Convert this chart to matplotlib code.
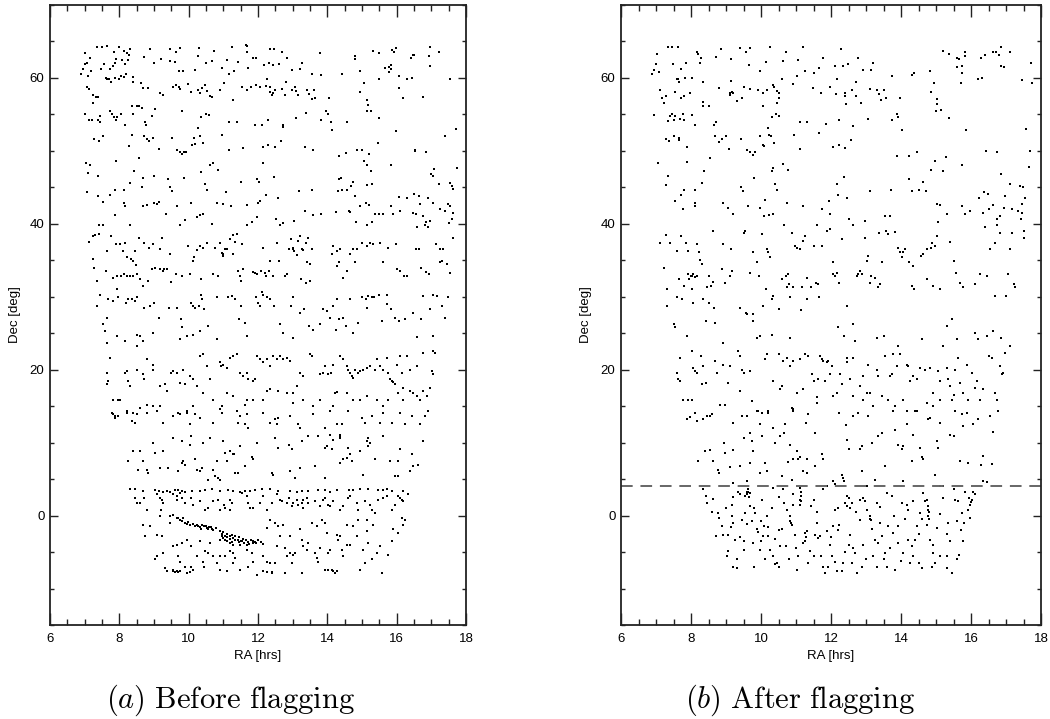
import matplotlib
matplotlib.use('Agg')
import matplotlib.pyplot as plt
from matplotlib.ticker import MultipleLocator

plt.rcParams['mathtext.fontset'] = 'cm'

# ---------------- (a) Before flagging : (RA [hrs], Dec [deg]) ----------------
before_north = [
(7.35,64.3),(7.49,64.3),(7.65,64.4),(8.0,64.3),(7.02,63.4),(7.85,63.6),(8.13,63.7),(8.30,63.9),(8.21,63.4),(8.88,64.0),
(9.46,64.0),(9.63,63.6),(9.75,64.1),(10.31,64.1),(10.74,63.7),(11.26,64.2),(11.68,64.4),(11.66,64.5),(11.69,63.6),(12.36,64.0),
(12.46,64.0),(12.69,63.6),(13.79,63.4),(14.79,63.0),(15.31,63.7),(15.49,63.4),(15.86,63.8),(15.97,64.1),(15.93,63.6),(16.48,63.2),
(16.96,64.3),(17.23,63.6),(16.92,63.0),
(6.88,60.5),(6.94,61.2),(7.0,61.9),(7.08,62.0),(7.15,62.7),(7.19,60.9),(7.10,60.2),(7.46,61.2),(7.56,61.9),(7.73,61.2),
(7.81,61.7),(7.88,62.1),(7.91,62.6),(8.07,62.4),(8.16,61.9),(8.26,62.5),(8.29,63.1),(8.72,62.9),(8.99,62.0),(9.19,62.6),
(9.45,62.3),(9.60,62.2),(9.72,61.0),(9.84,60.9),(10.17,61.1),(10.28,63.0),(10.49,62.1),(10.67,62.3),(10.96,61.4),(11.10,62.5),
(11.16,60.5),(11.32,60.9),(11.41,62.2),(11.71,61.3),(11.95,62.8),(11.87,62.8),(12.16,61.8),(12.31,62.1),(12.44,61.8),(12.61,61.9),
(12.85,62.8),(12.98,61.1),(13.21,61.2),(13.28,62.1),(13.57,60.6),(13.81,60.4),(14.42,60.5),(14.93,61.0),(14.79,62.6),(15.66,61.4),
(15.77,61.5),(15.83,61.2),(15.84,61.8),(15.79,60.8),(16.08,60.3),(16.41,62.8),(16.51,63.2),(16.97,61.7),(17.55,59.8),
(7.06,58.8),(7.13,58.5),(7.25,57.6),(7.32,57.4),(7.39,57.4),(7.61,60.0),(7.65,59.8),(7.70,59.9),(7.77,59.4),(7.87,60.0),
(7.99,59.8),(8.04,60.2),(8.13,60.1),(8.18,60.5),(8.38,60.1),(8.38,59.4),(8.63,59.3),(8.67,58.6),(8.83,58.6),(9.17,58.0),
(9.25,57.7),(9.56,58.8),(9.63,59.0),(9.71,58.8),(9.75,58.5),(9.97,59.2),(10.08,58.1),(10.26,58.4),(10.33,57.9),(10.39,58.6),
(10.46,59.0),(10.54,58.2),(10.61,57.5),(10.67,57.4),(10.90,58.4),(11.02,59.3),(11.29,57.0),(11.55,58.7),(11.69,58.4),(11.79,58.8),
(11.94,59.0),(12.05,58.8),(12.22,58.9),(12.25,59.8),(12.36,58.8),(12.36,58.1),(12.44,57.9),(12.40,57.6),(12.49,58.3),(12.69,58.5),
(12.81,59.4),(12.79,57.6),(12.97,58.4),(13.06,58.7),(13.11,58.2),(13.16,57.7),(13.40,58.4),(13.48,57.8),(13.55,57.1),(13.62,58.4),
(13.65,57.2),(14.06,57.2),(14.95,58.1),(15.06,59.3),(15.13,57.0),(15.16,56.3),(15.26,55.5),(15.14,55.5),(15.50,59.9),(16.06,58.6),
(16.18,57.2),(16.31,59.8),(16.43,60.0),(16.75,57.4),
(7.0,55.0),(7.13,54.2),(7.20,54.3),(7.25,56.5),(7.39,54.3),(7.44,54.8),(7.44,53.9),(7.27,51.6),(7.40,51.4),(7.52,52.1),
(7.73,55.5),(7.79,55.0),(7.91,54.2),(7.85,54.6),(7.94,54.7),(8.04,55.0),(8.16,53.6),(8.28,50.7),(8.38,55.0),(8.37,56.1),
(8.50,56.1),(8.58,56.1),(8.64,55.9),(8.36,52.2),(8.75,54.0),(8.76,53.5),(8.93,54.8),(9.04,55.7),(8.71,52.0),(8.81,51.6),
(8.86,51.4),(8.97,51.7),(9.13,50.3),(9.51,51.7),(9.65,50.1),(9.75,49.8),(9.80,49.6),(9.86,49.9),(9.92,49.8),(9.81,55.5),
(10.14,51.7),(10.09,50.8),(10.17,50.9),(10.35,54.6),(10.27,53.1),(10.33,52.1),(10.49,55.1),(10.60,54.9),(10.42,51.1),(10.97,52.2),
(11.16,54.0),(11.40,54.0),(11.16,50.1),(11.58,50.4),(11.91,53.6),(12.11,53.6),(12.29,54.2),(12.14,50.6),(12.29,50.8),(12.50,50.6),
(12.71,53.5),(12.71,53.3),(12.66,51.4),(13.11,54.5),(13.39,55.2),(13.36,50.6),(13.58,50.1),(13.81,54.3),(13.96,55.5),(14.02,55.0),
(14.10,53.9),(14.13,52.8),(14.56,53.9),(14.34,49.3),(14.55,49.7),(14.87,50.1),(15.01,50.1),(15.21,49.6),(15.46,51.1),(15.49,54.5),
(15.98,52.7),(16.53,50.1),(16.85,49.9),(17.40,52.0),(17.71,53.0),
(7.03,48.3),(7.15,48.0),(7.09,46.9),(7.38,46.6),(7.90,48.6),(8.31,45.6),(8.41,47.3),(8.58,49.0),(8.67,46.3),(8.65,45.1),
(9.0,46.5),(9.40,46.1),(9.46,45.0),(9.53,44.5),(9.86,46.3),(10.35,47.1),(10.46,45.5),(10.52,44.7),(10.62,48.0),(10.71,48.3),
(10.86,47.4),(11.09,44.4),(11.50,45.8),(11.97,46.1),(12.02,45.8),(12.15,48.3),(12.46,46.4),(12.24,44.0),(12.58,43.6),(13.17,44.5),
(13.55,44.7),(14.33,46.1),(14.38,46.3),(14.42,44.6),(14.30,44.5),(14.58,44.7),(14.73,45.8),(14.69,45.2),(14.79,43.8),(15.07,48.6),
(15.13,48.0),(15.27,47.3),(15.15,45.3),(15.30,45.4),(15.85,48.0),(16.08,43.7),(16.29,43.5),(16.50,44.1),(16.63,43.8),(16.89,43.5),
(16.98,46.8),(17.08,47.5),(17.06,46.6),(17.21,45.5),(17.54,45.6),(17.59,45.2),(17.62,44.8),(17.73,47.7),(16.53,50.0),(7.06,44.4),
(7.38,43.8),(7.73,44.0),(7.88,44.7),(8.13,44.7),
]

before_mid = [
(7.54,43.0),(7.88,41.2),(8.13,42.8),(8.16,42.4),(7.41,39.8),(7.54,39.8),(8.31,39.8),(8.69,42.4),(8.79,42.6),(9.01,42.8),
(9.08,42.7),(9.15,43.0),(9.35,41.3),(9.65,42.5),(9.76,39.8),(9.90,40.5),(10.08,42.8),(10.23,41.0),(10.33,41.2),(10.41,41.3),
(10.68,40.0),(10.81,42.9),(10.98,42.7),(11.23,42.5),(11.69,42.6),(11.67,39.8),(11.84,40.3),(11.96,40.9),(12.01,42.8),(12.06,43.1),
(12.52,40.6),(12.63,39.9),(12.71,40.1),(13.05,40.4),(13.36,41.7),(13.60,41.2),(13.83,41.3),(14.25,41.6),(14.62,41.8),(14.65,41.6),
(14.83,40.2),(14.94,42.5),(15.12,42.8),(15.20,42.6),(15.13,39.8),(15.28,40.2),(15.38,41.3),(15.50,41.4),(15.62,41.4),(15.85,42.5),
(15.90,41.4),(16.10,41.8),(16.46,41.5),(16.56,41.4),(16.67,42.7),(16.77,41.1),(16.85,40.2),(16.82,39.8),(16.96,40.4),(16.91,39.5),
(17.25,42.1),(17.39,41.8),(17.49,42.7),(17.54,42.5),(17.59,40.6),(17.63,41.5),(17.52,40.1),(17.06,42.9),(16.58,39.5),
(7.13,37.5),(7.23,38.3),(7.31,38.4),(7.42,38.6),(7.25,35.2),(7.27,34.0),(7.37,32.2),(7.63,36.3),(7.75,38.3),(7.90,37.3),
(8.02,37.3),(8.15,37.4),(8.10,36.3),(8.23,35.5),(8.33,35.2),(8.40,34.9),(8.48,34.3),(8.46,36.3),(8.58,38.1),(8.71,37.4),
(8.87,36.7),(8.98,37.2),(9.22,38.1),(9.17,36.5),(9.46,35.8),(9.29,33.8),(7.62,33.5),(7.83,32.6),(7.92,32.9),(8.04,32.9),
(8.13,33.1),(8.21,32.9),(8.31,32.8),(8.40,32.9),(8.50,33.1),(8.60,32.4),(8.69,31.5),(8.83,32.2),(8.93,33.8),(9.03,34.0),
(9.16,33.8),(9.27,33.5),(9.37,33.8),(9.49,32.0),(9.63,33.1),(9.80,32.9),(9.97,37.0),(10.04,33.1),(10.12,34.9),(10.16,35.5),
(10.23,36.4),(10.33,37.0),(10.41,36.7),(10.54,37.4),(10.36,32.4),(10.71,33.1),(10.86,32.9),(10.76,36.7),(10.90,37.4),(10.98,35.8),
(11.0,35.6),(10.96,36.0),(11.05,36.5),(11.12,36.5),(11.19,37.9),(11.27,38.4),(11.35,37.5),(11.40,38.6),(11.53,37.2),(11.29,35.8),
(11.43,33.5),(11.48,32.9),(11.50,32.2),(11.58,33.8),(11.85,33.4),(11.92,33.2),(11.98,33.1),(12.10,33.5),(12.21,33.3),(12.33,33.5),
(12.42,32.9),(12.22,32.9),(12.15,36.7),(12.35,34.9),(12.54,37.4),(12.62,34.9),(12.78,32.9),(12.85,33.1),(12.90,36.6),(12.94,37.9),
(13.02,36.5),(13.0,36.7),(13.04,36.3),(13.12,35.7),(13.16,37.7),(13.21,38.3),(13.26,36.5),(13.31,36.4),(13.38,37.4),(13.42,34.7),
(13.50,34.5),(13.45,38.1),(13.55,36.5),(13.24,32.4),(13.38,31.9),(13.50,32.2),(14.13,35.8),(14.17,37.0),(14.27,36.3),(14.37,36.5),
(14.35,34.7),(14.27,34.2),(14.46,32.6),(14.56,33.5),(14.65,35.8),(14.75,36.5),(14.85,36.5),(14.80,34.7),(14.99,37.4),(15.13,37.0),
(15.23,37.4),(15.33,37.3),(15.52,37.4),(15.62,34.7),(15.76,36.7),(15.98,37.2),(16.02,33.8),(16.10,33.5),(16.21,32.9),(16.29,32.9),
(16.56,36.5),(16.65,36.5),(16.70,34.0),(16.85,33.4),(16.92,33.1),(17.13,37.3),(17.25,36.5),(17.35,36.5),(17.30,34.9),(17.44,34.5),
(17.54,33.3),(17.63,38.1),(17.25,34.7),
(7.35,28.7),(7.44,30.3),(7.63,27.1),(7.68,29.7),(7.83,29.4),(7.92,31.0),(7.97,29.9),(8.19,29.2),(8.26,29.7),(8.36,29.7),
(8.45,29.4),(8.50,29.9),(8.71,28.5),(8.88,28.8),(9.0,29.2),(9.13,27.1),(9.44,28.5),(9.65,28.5),(9.77,26.9),(9.80,25.8),
(9.94,24.6),(10.06,29.1),(10.13,28.8),(10.18,28.5),(10.31,28.7),(10.37,30.3),(10.38,29.7),(10.44,28.3),(10.57,26.0),(10.83,29.9),
(11.14,29.9),(11.24,30.1),(11.34,29.7),(11.50,28.7),(11.46,26.9),(11.63,26.4),(11.94,29.9),(12.01,29.2),(12.06,28.7),(12.11,30.7),
(12.15,30.3),(12.25,29.9),(12.36,29.7),(12.46,28.8),(12.63,26.2),(12.71,25.1),(12.94,28.7),(13.0,29.9),(13.21,27.8),(13.33,28.3),
(13.48,26.0),(13.60,25.5),(13.87,28.3),(13.98,28.0),(14.08,27.1),(14.17,28.7),(14.25,25.5),(14.35,26.9),(14.44,27.1),(14.54,26.0),
(14.65,29.7),(14.75,25.1),(14.89,26.4),(14.99,29.9),(15.12,29.7),(15.13,28.5),(15.18,30.1),(15.28,29.9),(15.35,29.9),(15.50,30.3),
(15.57,26.7),(15.71,29.0),(15.83,28.3),(15.95,27.1),(16.08,26.7),(16.24,26.9),(16.48,27.8),(16.69,26.9),(16.77,30.1),(16.96,28.3),
(17.06,30.3),(17.15,30.1),(17.30,28.7),(17.39,27.1),(17.49,29.9),(15.71,30.2),(14.27,29.7),(13.79,26.2),(13.02,24.4),(16.58,24.5),
(17.06,24.6),(11.67,24.6),(10.81,24.2),(10.33,25.3),(10.13,24.8),(7.54,26.2),(7.59,25.3),(7.63,23.7),(7.92,24.6),(8.16,23.9),
(8.50,24.8),(8.52,23.2),(8.60,24.6),(8.69,23.9),(8.98,25.1),(9.75,24.2),
(7.73,21.6),(7.63,19.6),(7.68,18.4),(7.65,18.0),(7.83,15.9),(7.97,15.9),(8.16,19.6),(8.21,19.8),(8.26,18.4),(8.31,17.8),
(8.50,20.0),(8.69,19.4),(8.71,18.7),(8.79,21.4),(8.98,20.7),(8.96,20.0),(9.17,17.8),(9.32,18.0),(9.37,17.1),(9.48,19.6),
(9.56,19.8),(9.65,19.6),(9.75,18.2),(9.83,20.0),(9.89,18.0),(10.04,19.1),(10.13,18.7),(10.33,21.9),(10.42,22.1),(10.52,20.5),
(10.61,18.7),(10.90,21.0),(10.92,20.5),(11.0,20.7),(11.10,20.3),(11.19,21.6),(11.29,21.9),(11.38,22.1),(11.48,19.6),(11.58,19.1),
(11.67,19.6),(11.72,18.7),(11.85,18.4),(11.91,18.7),(11.96,21.9),(12.06,21.4),(12.15,21.0),(12.25,21.4),(12.35,20.5),(12.44,21.9),
(12.54,21.4),(12.63,21.9),(12.73,21.4),(12.83,21.6),(12.92,21.2),(13.02,16.8),(13.12,17.8),(13.21,19.6),(13.31,19.1),(13.50,22.1),
(13.55,21.9),(13.79,19.4),(13.88,19.6),(13.93,20.5),(14.03,19.4),(14.12,19.6),(14.17,20.7),(14.22,16.8),(14.27,16.9),(14.37,21.9),
(14.46,21.4),(14.56,20.5),(14.61,20.0),(14.65,19.6),(14.70,19.1),(14.75,18.9),(14.80,20.0),(14.89,19.6),(14.94,19.8),(15.04,20.0),
(15.13,20.3),(15.23,20.5),(15.38,20.0),(15.42,21.4),(15.52,20.5),(15.62,20.0),(15.71,21.6),(15.76,19.6),(15.81,18.7),(15.86,18.4),
(15.90,18.3),(15.95,18.0),(16.0,20.7),(16.10,21.9),(16.14,19.6),(16.19,17.5),(16.29,21.9),(16.38,17.1),(16.48,16.8),(16.58,16.4),
(16.67,15.9),(16.77,17.1),(16.87,16.4),(16.96,17.5),(17.06,22.6),(17.11,22.3),(17.01,19.8),(17.06,19.4),(16.77,22.3),(16.58,20.5),
(16.38,20.0),(16.19,15.9),(16.05,16.8),(15.76,15.9),(15.62,15.0),(15.42,15.9),(15.13,16.4),(14.94,15.9),(14.75,15.9),(14.56,16.8),
(14.17,15.0),(13.79,15.9),(13.60,15.0),(13.31,15.9),(13.02,15.5),(12.83,16.8),(12.59,17.1),(12.35,17.3),(12.25,17.1),(12.15,15.9),
(11.86,15.9),(11.67,15.9),(11.63,15.2),(11.48,13.6),(11.29,16.4),(11.10,16.8),(10.90,14.6),(10.95,15.0),(10.71,15.9),(10.42,16.8),
(10.23,17.8),(10.13,15.0),(9.94,14.3),(9.70,14.1),(9.17,15.0),(8.98,15.0),(8.79,15.2),(8.60,14.8),(8.40,14.1),(8.21,14.3),
(8.02,15.9),(7.78,14.1),(7.88,13.6),
]

before_equator = [
(7.83,13.9),(7.88,13.4),(7.97,13.6),(8.21,14.1),(8.36,12.9),(8.45,12.7),(8.50,13.9),(8.79,14.1),(9.08,14.3),(9.27,12.7),
(9.56,13.6),(9.75,13.9),(9.94,14.1),(10.04,12.5),(10.18,13.9),(10.33,13.4),(10.71,12.7),(10.95,14.1),(11.38,14.3),(11.43,12.7),
(11.63,12.5),(11.72,12.0),(11.67,13.9),(12.15,14.1),(12.35,12.7),(12.49,13.2),(12.59,13.4),(12.54,12.5),(12.92,13.6),(13.16,12.5),
(13.21,12.0),(13.60,13.9),(13.93,12.0),(14.08,14.3),(14.27,12.5),(14.41,12.5),(14.61,14.3),(14.99,13.4),(15.09,12.7),(15.28,13.6),
(15.52,12.7),(15.62,14.1),(15.86,12.7),(16.10,14.1),(16.24,12.5),(16.43,13.6),(16.67,12.5),(16.82,13.6),(16.91,14.3),
(8.26,7.5),(8.40,8.8),(8.55,6.3),(8.60,8.8),(8.69,7.5),(8.79,6.3),(8.84,5.9),(8.98,10.0),(9.03,8.6),(9.17,6.5),
(9.27,8.8),(9.41,6.5),(9.56,10.7),(9.70,6.1),(9.80,10.2),(9.80,7.2),(9.85,7.5),(9.89,7.0),(10.04,9.7),(10.08,10.9),
(10.18,7.7),(10.23,6.3),(10.33,6.1),(10.38,6.5),(10.42,10.0),(10.57,4.9),(10.62,10.7),(10.71,6.3),(10.76,5.4),(10.86,5.2),
(10.90,4.9),(10.81,7.5),(11.0,10.2),(11.05,8.6),(11.10,7.5),(11.19,8.8),(11.29,8.4),(11.31,8.5),(11.34,5.9),(11.43,5.9),
(11.48,9.5),(11.63,6.8),(11.82,8.1),(11.85,7.7),(11.98,10.0),(12.39,5.9),(12.44,5.6),(12.49,10.7),(12.59,9.3),(12.88,9.7),
(12.97,9.1),(12.92,6.1),(13.07,5.2),(13.21,6.5),(13.26,10.2),(13.45,10.9),(13.64,6.8),(13.74,10.9),(13.93,9.3),(13.98,9.5),
(13.93,5.2),(14.08,11.1),(14.13,9.1),(14.17,10.4),(14.37,11.1),(14.37,10.9),(14.37,10.7),(14.37,7.2),(14.46,7.7),(14.56,7.9),
(14.65,8.4),(14.61,9.3),(14.70,7.5),(14.94,8.8),(15.04,5.6),(15.13,10.2),(15.18,9.5),(15.23,10.0),(15.18,10.7),(15.38,7.7),
(15.62,10.9),(15.81,7.5),(15.95,5.4),(16.05,5.4),(16.05,7.5),(16.10,9.1),(16.43,8.4),(16.38,6.1),(16.48,6.8),(16.62,7.0),
(16.77,10.2),
]

before_south = [
(8.31,3.66),(8.45,3.66),(8.69,3.34),(9.03,3.57),(9.13,3.34),(9.27,3.2),(9.37,3.34),(9.46,3.2),(9.61,3.57),(9.70,3.48),
(9.80,3.34),(9.89,3.2),(10.09,3.34),(10.33,3.34),(10.47,3.57),(10.66,3.66),(10.90,3.34),(11.14,3.48),(11.29,3.34),(11.48,3.2),
(11.63,3.34),(11.77,3.43),(11.91,3.57),(12.11,3.66),(12.35,3.66),(12.59,3.34),(12.92,3.34),(13.12,3.2),(13.26,3.34),(13.45,3.34),
(13.74,3.48),(13.93,3.57),(14.08,3.2),(14.27,3.48),(14.63,3.57),(14.75,3.57),(14.94,3.66),(15.18,3.66),(15.47,3.57),(15.62,3.57),
(15.71,3.66),(15.86,3.43),(16.19,3.34),(16.34,2.9),
(8.45,2.4),(8.50,1.7),(8.60,1.7),(8.71,2.4),(8.79,0.8),(9.08,2.9),(9.17,2.4),(9.22,2.2),(9.27,1.7),(9.19,0.8),
(9.17,-0.1),(9.56,2.9),(9.65,2.65),(9.67,2.2),(9.75,3.1),(9.80,2.4),(9.89,1.7),(10.08,2.4),(10.13,1.5),(10.33,2.0),
(10.47,0.8),(10.56,1.05),(10.71,2.0),(10.85,2.2),(10.90,0.8),(11.02,1.5),(11.05,1.05),(11.19,2.2),(11.19,0.8),(11.24,1.7),
(11.53,3.1),(11.67,2.65),(11.72,1.7),(11.77,1.05),(11.86,1.05),(12.06,1.7),(12.15,2.65),(12.25,0.8),(12.39,1.7),(12.54,2.9),
(12.63,2.2),(12.68,2.0),(12.83,1.7),(12.88,2.4),(12.97,1.3),(13.02,1.7),(13.12,2.2),(13.16,1.5),(13.26,1.7),(13.31,1.05),
(13.31,2.2),(13.40,2.4),(13.45,1.7),(13.64,2.0),(13.79,1.3),(13.88,2.2),(13.93,2.4),(14.03,1.5),(14.08,1.3),(14.17,2.0),
(14.37,0.8),(14.46,1.3),(14.61,2.4),(14.65,2.65),(14.85,1.7),(14.89,0.8),(15.09,2.0),(15.23,1.5),(15.28,0.8),(15.38,0.37),
(15.47,2.2),(15.62,2.4),(15.71,2.65),(15.86,0.8),(15.95,1.5),(16.10,2.4),(16.14,2.2),(16.19,2.0),(16.05,2.65),
(8.69,-1.24),(8.74,-2.84),(8.88,-1.46),(9.08,-2.6),(9.08,-5.6),(9.22,-2.84),(9.27,-5.1),(9.32,-7.2),(9.37,-7.6),(9.46,-1.0),
(9.56,-4.2),(9.65,-4.0),(9.70,-5.6),(9.75,-6.3),(9.80,-3.75),(9.94,-3.3),(10.08,-4.2),(10.23,-5.6),(10.33,-3.52),(10.42,-6.3),
(10.44,-7.0),(10.47,-4.9),(10.57,-5.1),(10.71,-5.6),(10.81,-6.5),(10.90,-5.6),(11.05,-5.6),(11.10,-7.6),(11.19,-4.9),(11.29,-5.1),
(11.34,-5.8),(11.48,-7.4),(11.67,-4.7),(11.82,-5.1),(11.96,-8.1),(12.15,-5.6),(12.25,-6.3),(12.35,-6.5),(12.39,-7.9),(12.25,-1.7),
(12.35,-0.55),(12.49,-1.0),(12.59,-1.46),(12.73,-1.24),(12.78,-4.4),(12.83,-5.6),(12.92,-5.1),(12.97,-6.5),(13.02,-5.35),(13.07,-5.1),
(12.78,-7.9),(13.26,-7.9),(13.21,-1.9),(13.26,-3.3),(13.31,-4.2),(13.40,-4.7),(13.45,-3.75),(13.55,-1.0),(13.64,-5.1),(13.69,-5.8),
(13.74,-6.3),(13.79,-4.4),(13.84,-0.55),(13.93,-1.0),(13.98,-2.4),(14.03,-5.1),(14.08,-4.7),(14.13,-7.4),(14.17,-7.6),(14.22,-7.9),
(14.27,-2.6),(14.32,-3.3),(14.37,-2.84),(14.41,-4.7),(14.46,-5.6),(14.56,-4.0),(14.65,-4.0),(14.56,-1.24),(14.75,-1.46),(14.85,-2.84),
(14.94,-7.4),(15.04,-4.7),(15.09,-6.5),(15.13,-2.15),(15.18,-3.75),(15.28,-6.0),(15.33,-1.24),(15.42,-5.1),(15.52,-4.2),(15.57,-7.9),
(15.76,-5.35),(15.86,-3.52),(15.90,-1.9),(16.14,-0.3),(16.19,-1.24),(16.05,-2.4),(16.24,-0.55),(15.13,-0.55),(14.89,-0.55),(13.69,-1.46),
(12.92,-2.84),(12.63,-2.84),(12.54,-4.2),(12.49,-6.5),(11.86,-6.3),(11.72,-7.0),(11.29,-6.5),(10.90,-7.4),(10.62,-3.75),(10.08,-7.0),
(9.89,-7.0),(9.56,-7.4),(9.03,-6.0),
(9.56,-7.6),(9.61,-7.7),(9.65,-7.6),(9.70,-7.7),(9.75,-7.6),(9.94,-7.9),(10.04,-7.8),(10.13,-7.4),(12.15,-7.6),(12.25,-7.7),
(12.39,-7.7),(13.93,-7.4),(14.03,-7.5),(14.27,-7.6),
]

before_stream = [
(9.46,-0.1),(9.56,0.14),(9.65,-0.3),(9.75,-0.55),(9.80,-0.78),(9.85,-0.3),(9.89,-1.0),(9.99,-0.9),(10.04,-1.24),(10.12,-1.1),
(10.18,-1.46),(10.23,-1.24),(10.28,-1.37),(10.33,-1.56),(10.38,-1.24),(10.44,-1.46),(10.52,-1.7),(10.60,-1.56),(10.67,-1.83),(10.71,-2.0),
(10.79,-1.7),(10.90,-2.15),(10.95,-2.47),(11.0,-2.3),(11.05,-2.75),(11.12,-2.47),(11.19,-2.84),(11.24,-2.6),(11.29,-3.07),(11.34,-2.75),
(11.41,-3.3),(11.46,-2.97),(11.50,-3.52),(11.58,-3.2),(11.65,-3.39),(11.72,-3.66),(11.79,-3.3),(11.87,-3.52),(11.94,-3.75),(12.01,-3.39),
(12.08,-3.66),(12.15,-3.84),(11.10,-3.52),(11.19,-3.75),(11.29,-3.98),(10.90,-3.3),(11.0,-3.07),(11.48,-3.98),(11.67,-3.98),
(11.1,-2.9),(11.2,-3.2),(11.35,-3.4),(11.45,-3.6),(11.55,-3.5),(11.6,-3.8),(11.75,-3.9),(11.85,-3.8),(11.9,-3.6),(10.95,-2.8),
(11.05,-3.3),(11.25,-3.6),(10.5,-1.4),(10.55,-1.9),(10.65,-1.5),(10.35,-1.8),(9.95,-1.2),(9.7,-0.3),
]

# ---------------- (b) After flagging ----------------
after_north = [
(6.88,60.5),(6.95,61.1),(7.0,61.9),(7.02,63.3),(7.09,60.8),(7.10,58.4),(7.16,57.3),(7.23,56.6),(7.29,57.5),(7.33,64.3),
(7.46,64.3),(7.64,64.3),(7.48,61.9),(7.64,59.9),(7.66,59.5),(7.61,59.8),(7.70,61.2),(7.54,58.1),(7.71,57.3),(7.80,57.5),
(7.86,62.1),(7.83,60.0),(7.97,57.9),(8.03,60.0),(8.16,63.6),(8.21,63.3),(8.26,62.0),(8.35,59.4),(8.28,62.7),(6.95,54.9),
(7.05,48.3),(7.35,46.6),(7.29,45.3),(7.40,54.8),(7.35,54.1),(7.47,55.0),(7.50,54.3),(7.54,54.8),(7.69,54.4),(7.76,55.0),
(7.80,54.3),(7.88,50.6),(7.88,48.5),(8.02,54.9),(8.11,53.5),(7.28,51.6),(7.38,51.4),(7.52,52.1),(7.67,51.5),(7.67,51.8),
(7.70,43.9),(7.80,44.7),(8.10,44.6),(8.30,45.6),(8.35,56.1),(8.33,56.7),(8.50,56.2),(8.37,47.3),(8.54,49.0),(8.67,53.5),
(8.69,52.0),(8.71,54.0),(8.81,51.2),(8.88,51.6),(9.0,52.0),(9.09,50.2),(8.70,62.9),(8.81,58.6),(8.87,64.0),(9.13,62.6),
(9.15,59.6),(9.11,58.0),(9.10,57.6),(9.17,58.1),(9.30,56.9),(9.20,57.9),(9.45,57.3),(9.51,58.7),(9.41,64.1),(9.56,63.6),
(9.69,64.1),(9.66,61.8),(9.69,58.5),(9.90,58.4),(9.98,60.9),(10.06,58.0),(10.14,62.2),(10.07,56.1),(10.18,58.4),(10.27,64.2),
(10.33,59.0),(10.37,58.7),(10.45,58.2),(10.50,57.9),(10.52,57.3),(10.45,56.6),(10.43,55.0),(10.52,54.8),(10.62,62.3),(10.60,59.8),
(10.30,54.6),(10.20,53.2),(9.97,52.1),(9.61,50.1),(9.69,49.8),(9.76,49.5),(9.83,49.8),(10.07,50.8),(10.09,50.7),(10.28,52.0),
(10.36,51.1),(10.24,52.2),(9.44,51.6),(9.43,45.1),(9.48,44.5),(9.80,46.3),(10.30,47.2),(10.35,47.6),(10.40,45.5),(10.47,44.7),
(10.62,48.2),(10.77,47.4),(10.70,63.6),(10.92,59.2),(10.93,52.2),(11.05,62.5),(11.04,60.2),(11.10,53.9),(11.11,50.2),(11.21,64.2),
(11.31,53.9),(11.27,60.9),(11.50,60.7),(11.48,58.6),(11.65,61.3),(11.71,57.9),(11.78,62.8),(11.85,53.7),(11.65,52.4),(11.97,58.7),
(12.10,61.7),(12.16,59.8),(12.14,57.8),(12.23,54.2),(12.16,45.4),(12.19,43.9),(12.29,63.9),(12.34,61.7),(12.39,58.0),(12.41,57.5),
(12.43,56.4),(12.49,61.9),(12.59,58.4),(12.62,53.4),(12.72,57.5),(12.71,59.4),(12.76,62.8),(12.90,61.1),(12.87,56.6),(13.05,54.4),
(13.13,61.1),(13.10,44.5),(13.11,58.5),(13.21,62.1),(12.07,50.6),(12.22,50.8),(12.40,50.4),(12.58,51.5),(12.38,46.4),(12.47,43.5),
(13.30,58.4),(13.36,57.8),(13.42,57.0),(13.50,58.3),(13.57,57.2),(13.73,60.3),(13.73,54.3),(13.88,55.0),(13.92,54.6),(13.97,57.2),
(14.03,52.8),(13.88,49.3),(13.72,44.7),(14.23,49.3),(14.30,60.4),(14.37,60.7),(14.24,46.2),(14.32,44.5),(14.45,49.8),(14.52,44.7),
(14.62,45.8),(14.70,44.5),(14.83,61.0),(14.85,58.1),(14.94,59.3),(15.02,57.1),(15.03,56.4),(15.01,55.5),(15.14,55.6),(15.38,54.5),
(14.85,47.4),(14.98,48.6),(15.19,47.3),(15.29,49.1),(15.21,63.7),(15.38,63.3),(15.59,62.7),(15.65,62.6),(15.59,61.5),(15.73,61.7),
(15.74,60.7),(15.82,63.6),(15.83,63.0),(15.70,59.3),(15.74,48.0),(15.86,52.8),(16.21,59.8),(16.30,60.0),(16.28,62.7),(16.40,63.1),
(16.43,50.0),(16.22,43.5),(16.48,44.1),(16.64,63.6),(16.71,63.5),(16.79,63.1),(16.85,64.3),(16.86,61.7),(16.95,61.5),(17.11,63.6),
(16.73,49.9),(16.86,46.8),(17.11,45.4),(17.40,45.2),(17.48,45.0),(17.45,59.7),(17.71,62.1),(17.73,59.3),(17.57,53.0),(17.66,47.8),
(17.69,50.0),(17.54,43.5),(16.98,43.8),(16.36,44.3),
]

after_mid = [
(7.11,37.4),(7.23,34.0),(7.29,38.4),(7.40,37.4),(7.32,31.0),(7.30,28.7),(7.50,26.2),(7.54,25.8),(7.59,36.3),(7.61,29.9),
(7.67,32.4),(7.70,38.3),(7.73,29.7),(7.80,31.5),(7.86,37.4),(7.90,33.1),(7.90,36.3),(7.99,32.8),(7.95,32.4),(8.02,32.9),
(8.07,33.1),(8.10,32.7),(8.02,31.0),(8.07,29.2),(8.16,32.9),(8.18,37.2),(8.24,36.1),(8.26,35.1),(8.30,34.5),(8.35,29.7),
(8.45,31.4),(8.43,26.7),(8.50,29.2),(8.52,32.9),(8.56,31.5),(8.62,32.0),(8.64,39.0),(8.66,28.5),(8.69,26.4),(8.88,33.8),
(8.92,37.2),(8.97,31.9),(9.13,36.5),(9.10,32.9),(9.16,33.5),(9.40,28.5),(9.51,38.8),(9.54,39.0),(9.57,27.8),(9.61,27.6),
(9.69,33.2),(9.76,27.6),(9.78,36.1),(9.88,34.7),(9.95,32.9),(10.02,38.6),(10.05,28.8),(10.09,41.1),(10.14,31.1),(10.16,36.5),
(10.21,36.1),(10.24,41.2),(10.26,35.4),(10.35,41.3),(10.30,29.7),(10.35,30.1),(10.50,28.3),(10.59,32.4),(10.66,39.9),(10.71,32.9),
(10.73,31.3),(10.76,33.1),(10.81,31.7),(10.83,29.9),(10.88,38.7),(10.92,31.4),(10.97,37.0),(11.04,36.7),(11.11,36.5),(11.13,28.2),
(11.16,31.3),(11.21,37.7),(11.26,38.3),(11.30,32.6),(11.32,29.7),(11.50,37.0),(11.42,31.4),(11.57,31.9),(11.61,39.9),(11.64,31.7),
(11.67,29.9),(11.73,37.0),(11.88,39.0),(11.97,39.3),(12.05,33.1),(12.07,34.7),(12.11,32.9),(12.16,33.2),(12.22,31.9),(12.30,37.9),
(12.45,28.7),(12.52,40.6),(12.62,39.9),(12.73,32.9),(12.76,33.1),(12.83,33.5),(12.88,33.1),(12.97,40.4),(12.97,38.1),(13.02,34.9),
(13.07,35.6),(13.11,31.9),(13.13,32.9),(13.26,32.6),(13.38,38.8),(13.33,31.3),(13.40,31.7),(13.45,34.7),(13.54,41.1),(13.69,41.1),
(13.57,39.0),(13.64,38.6),(13.83,38.9),(13.90,36.7),(13.97,36.1),(14.02,35.4),(14.07,36.1),(14.11,36.5),(14.24,34.7),(14.35,34.2),
(14.30,31.5),(14.37,31.0),(14.56,35.6),(14.64,35.8),(14.73,36.5),(14.73,32.4),(14.85,36.7),(14.88,37.4),(14.97,37.0),(14.90,31.5),
(15.02,38.3),(15.07,40.2),(15.11,31.0),(15.30,41.3),(15.40,37.5),(15.50,34.9),(15.57,33.3),(15.69,31.9),(15.78,31.3),(15.83,41.3),
(15.97,41.8),(16.11,31.7),(16.26,33.1),(16.45,32.9),(16.40,39.5),(16.54,36.5),(16.69,37.4),(16.69,30.1),(16.74,40.6),(16.83,38.8),
(17.00,30.1),(17.07,33.1),(17.11,36.5),(17.16,38.8),(17.23,31.7),(17.26,31.3),(17.35,41.8),(17.45,41.5),(17.50,38.1),(17.42,40.6),
(16.83,41.1),
(7.54,43.1),(7.78,42.0),(8.11,42.9),(8.11,42.4),(8.92,42.8),(9.07,42.2),(9.19,41.3),(9.64,42.5),(9.97,42.2),(10.11,43.3),
(10.73,42.8),(11.21,42.5),(11.73,42.0),(11.95,43.1),(11.97,41.3),(15.02,42.7),(15.11,42.6),(15.74,42.5),(16.35,41.5),(16.50,42.1),
(16.64,42.6),(16.74,39.9),(16.93,42.2),(17.16,42.0),(17.45,42.7),(17.50,39.0),
(7.59,19.6),(7.64,18.7),(7.69,18.4),(7.78,15.9),(7.90,15.9),(8.02,15.9),(7.69,21.6),(7.88,24.6),(8.02,22.6),(8.07,20.3),
(8.11,19.8),(8.18,19.6),(8.28,21.9),(8.30,18.0),(8.35,20.5),(8.43,18.2),(8.45,13.6),(8.54,13.6),(8.69,21.2),(8.73,19.6),
(8.83,15.2),(8.90,20.7),(8.92,23.7),(8.97,15.2),(9.07,18.2),(9.11,20.5),(9.35,22.6),(9.40,21.9),(9.40,17.1),(9.45,19.9),
(9.50,19.6),(9.59,13.6),(9.69,19.8),(9.73,15.7),(9.78,26.7),(9.88,24.4),(9.90,14.3),(9.97,24.6),(10.02,14.1),(10.11,21.4),
(10.16,22.1),(10.21,14.1),(10.30,24.8),(10.35,18.4),(10.50,22.1),(10.54,17.3),(10.59,17.8),(10.64,21.2),(10.73,21.6),(10.83,24.4),
(10.83,20.5),(10.88,14.8),(10.92,14.6),(10.92,21.2),(11.02,16.8),(11.11,21.4),(11.21,17.3),(11.26,22.1),(11.35,21.9),(11.45,19.4),
(11.50,18.4),(11.59,16.2),(11.59,15.5),(11.64,18.7),(11.69,21.9),(11.73,21.4),(11.78,21.2),(11.83,18.4),(11.88,21.0),(11.92,21.2),
(11.97,19.4),(12.02,20.5),(12.07,16.4),(12.16,16.8),(12.21,25.8),(12.26,19.4),(12.30,18.0),(12.37,24.6),(12.45,21.6),(12.47,21.0),
(12.54,18.7),(12.62,26.2),(12.64,16.4),(12.69,23.9),(12.78,14.1),(12.83,17.8),(12.90,19.1),(12.92,15.9),(13.02,16.8),(13.11,16.8),
(13.21,15.0),(13.30,20.0),(13.35,19.1),(13.45,16.4),(13.50,24.6),(13.54,21.9),(13.64,15.9),(13.69,19.1),(13.73,19.4),(13.78,22.1),
(13.83,15.0),(13.88,20.5),(13.97,22.1),(14.07,15.9),(14.16,20.7),(14.21,20.5),(14.26,18.4),(14.35,19.1),(14.40,14.3),(14.47,18.7),
(14.54,20.3),(14.59,24.2),(14.69,20.0),(14.73,15.5),(14.83,20.3),(14.92,15.0),(15.07,19.8),(15.11,15.9),(15.21,23.2),(15.30,20.3),
(15.35,18.7),(15.40,17.8),(15.45,15.9),(15.50,16.6),(15.54,20.0),(15.64,21.6),(15.69,18.2),(15.78,16.8),(15.88,20.7),(15.92,15.9),
(16.02,19.6),(16.11,17.5),(16.16,18.4),(16.26,15.9),(16.35,17.3),(16.45,24.6),(16.50,21.9),(16.59,21.6),(16.69,16.8),(16.74,15.9),
(16.83,20.5),(16.88,19.4),(16.92,19.6),(16.97,22.3),(17.11,23.2),(16.85,24.4),(16.64,25.3),(16.21,24.2),(16.11,25.1),(15.59,24.2),
(15.45,26.9),(15.30,26.0),(15.11,18.4),(13.92,23.2),(13.30,24.4),(13.07,20.7),(12.64,21.6),(14.92,16.8),
]

after_equator = [
(7.88,13.2),(7.97,13.5),(8.11,14.1),(8.16,12.9),(8.33,13.2),(8.45,13.6),(8.59,13.9),(8.21,7.5),(8.40,8.8),(8.54,9.0),
(8.64,7.5),(8.78,6.3),(8.81,5.9),(8.95,10.0),(8.97,8.6),(9.11,6.7),(9.19,12.7),(9.21,4.5),(9.21,9.0),(9.40,6.8),
(9.45,13.7),(9.50,10.7),(9.59,4.7),(9.69,11.3),(9.73,10.2),(9.69,7.2),(9.76,8.8),(9.88,14.3),(9.97,12.5),(10.02,10.9),
(9.97,5.9),(10.11,7.2),(10.16,6.1),(10.21,14.3),(10.35,12.0),(10.40,10.0),(10.54,10.9),(10.59,5.4),(10.66,11.3),(10.69,12.6),
(10.78,7.3),(10.83,9.7),(10.88,4.9),(10.92,14.3),(10.92,7.7),(11.02,8.8),(11.07,7.7),(11.11,8.1),(11.21,6.1),(11.29,12.7),
(11.30,7.7),(11.30,5.9),(11.35,13.9),(11.54,11.3),(11.54,6.8),(11.73,8.4),(11.78,7.7),(11.88,4.0),(12.05,4.7),(12.11,4.3),
(12.24,14.1),(12.30,5.6),(12.35,5.2),(12.37,4.7),(12.42,12.4),(12.45,10.4),(12.50,9.1),(12.64,13.6),(12.83,9.1),(12.88,9.5),
(12.88,6.1),(13.02,4.0),(13.07,13.6),(13.16,10.0),(13.26,4.9),(13.35,10.9),(13.45,11.3),(13.54,6.8),(13.78,14.3),(13.83,11.8),
(13.92,9.7),(14.02,9.1),(14.07,9.5),(14.07,4.7),(14.18,12.5),(14.16,14.3),(14.30,7.5),(14.35,11.1),(14.45,14.3),(14.54,9.3),
(14.59,8.1),(14.64,7.7),(14.78,13.2),(14.83,13.4),(14.97,5.6),(15.02,10.2),(15.07,9.3),(15.11,12.7),(15.21,4.0),(15.40,11.1),
(15.50,10.9),(15.54,14.3),(15.69,7.5),(15.73,13.9),(15.78,12.3),(15.88,14.1),(15.92,7.2),(16.07,12.5),(16.21,13.2),(16.28,7.0),
(16.34,8.2),(16.35,4.7),(16.45,4.6),(16.54,13.6),(16.59,7.1),(16.64,11.4),(16.78,14.3),
]

after_south = [
(8.35,3.6),(8.43,2.7),(8.45,1.7),(8.64,2.3),(8.78,0.37),(8.88,-1.46),(8.71,-2.84),(8.92,-2.6),(9.02,-5.5),(9.07,-4.9),
(9.16,1.5),(9.16,0.0),(9.21,-1.0),(9.21,-7.0),(9.26,-3.4),(9.30,-6.0),(9.35,3.3),(9.40,2.9),(9.45,-0.55),(9.50,-4.7),
(9.54,0.37),(9.59,3.3),(9.64,3.6),(9.69,3.1),(9.69,1.3),(9.73,-0.8),(9.78,-3.75),(9.83,0.37),(9.88,-1.9),(9.97,-4.7),
(10.02,2.2),(10.07,-2.84),(10.09,-1.46),(10.16,-0.1),(10.21,-2.84),(10.26,-4.7),(10.30,1.05),(10.35,-5.6),(10.40,-6.7),(10.45,-6.5),
(10.50,-7.0),(10.54,-4.2),(10.59,-1.9),(10.64,3.6),(10.66,1.7),(10.73,0.8),(10.83,-0.1),(10.88,-1.24),(10.92,2.9),(10.97,-2.6),
(11.02,-7.4),(11.07,-5.6),(11.11,2.2),(11.13,3.3),(11.21,-3.75),(11.26,-3.5),(11.30,-2.15),(11.35,-6.5),(11.42,1.3),(11.50,-5.6),
(11.54,-2.6),(11.59,-1.0),(11.64,-3.07),(11.69,-2.84),(11.78,-7.0),(11.83,-7.9),(11.88,-2.15),(11.97,-4.0),(12.02,-5.6),(12.07,-1.46),
(12.11,-6.3),(12.16,-7.6),(12.24,-1.24),(12.30,-7.6),(12.35,-6.5),(12.40,1.7),(12.45,2.7),(12.50,-4.0),(12.54,-2.6),(12.59,1.7),
(12.64,-4.4),(12.69,-5.1),(12.73,-7.9),(12.83,-0.55),(12.88,-7.0),(12.92,2.4),(12.97,2.0),(13.02,0.8),(13.11,-0.1),(13.16,-1.9),
(13.21,-5.6),(13.26,-3.3),(13.30,-7.0),(13.35,-3.75),(13.45,-2.84),(13.54,-5.1),(13.59,3.1),(13.64,-1.46),(13.69,-4.4),(13.73,2.7),
(13.78,-2.4),(13.83,-7.4),(13.92,-1.46),(14.02,1.7),(14.07,-5.1),(14.16,1.5),(14.21,-3.3),(14.26,-6.5),(14.30,-4.2),(14.35,-5.6),
(14.40,-3.3),(14.45,-1.46),(14.50,-6.5),(14.54,0.37),(14.64,3.1),(14.69,2.0),(14.73,-1.24),(14.78,0.8),(14.78,-0.1),(14.83,-3.3),
(14.88,-7.0),(14.92,-5.1),(14.97,-6.5),(15.02,-1.7),(15.11,-5.6),(15.21,2.4),(15.30,-5.6),(15.35,-1.0),(15.45,-7.9),(15.50,3.6),
(15.59,-0.8),(15.67,-5.35),(15.73,0.37),(15.78,-3.5),(15.83,3.3),(15.92,0.8),(15.97,-0.3),(16.02,2.2),(16.07,3.3),(16.11,2.9),
(15.64,2.0),(15.54,2.2),(14.73,2.2),(15.11,4.0),(14.35,2.0),(13.30,1.7),(12.83,2.2),(12.11,0.8),(11.78,3.6),(11.50,2.2),
(11.11,3.8),(10.35,3.8),
(9.59,2.9),(9.62,3.2),(9.66,2.6),(9.55,2.7),(11.13,2.7),(11.13,2.0),(11.12,1.5),(10.83,-0.8),(10.86,-1.0),(11.26,-2.4),
(11.28,-3.0),(12.45,1.3),(12.50,2.4),(12.54,1.0),(13.11,-0.4),(13.13,-0.6),(14.78,1.3),(14.80,0.5),(14.80,-0.5),(15.97,1.5),
(16.00,1.9),(15.95,2.4),(9.05,-2.6),(9.15,-1.5),(9.40,-3.0),(9.50,-3.5),(9.60,-1.2),(9.90,-2.3),(10.00,-0.7),(10.20,-1.5),
(10.40,-3.2),(10.50,-2.0),(10.70,-4.2),(10.80,-5.9),(11.00,-4.5),(11.40,-4.8),(11.70,-5.5),(12.00,-3.0),(12.20,-2.0),(12.60,-6.5),
(12.90,-4.0),(13.40,-1.0),(13.50,-6.0),(13.90,-3.8),(14.10,-0.5),(14.50,-2.5),(14.90,-4.0),(15.30,-2.5),(15.40,-3.5),(15.60,-6.0),
(15.70,-2.0),(9.30,-7.2),(9.80,-7.0),(10.10,-6.0),(10.00,-3.5),(11.90,-7.0),(12.40,-5.0),(13.00,-6.0),(13.60,-7.0),(14.00,-6.2),
(14.60,-7.2),(15.30,-7.2),(8.60,0.5),(8.80,-0.3),(9.00,1.0),(9.20,2.5),(9.80,1.0),(10.50,2.5),(10.90,1.5),(11.60,0.5),
(12.20,1.0),(12.70,0.5),(13.40,1.2),(13.80,0.0),(14.20,0.8),(14.60,-0.5),(15.10,0.2),(15.80,-1.0),
]

flag_dec_limit = 4.0
xlim, ylim = (6, 18), (-15, 70)
xticks = [6, 8, 10, 12, 14, 16, 18]
yticks = [0, 20, 40, 60]
captions = [r'$\mathit{(a)}\ \mathrm{Before\ flagging}$', r'$\mathit{(b)}\ \mathrm{After\ flagging}$']

before = before_north + before_mid + before_equator + before_south + before_stream
after = after_north + after_mid + after_equator + after_south

fig = plt.figure(figsize=(10.5, 7.19), dpi=100)
W, H = 1050, 719
axL = fig.add_axes([50 / W, 1 - 625 / H, 416 / W, 620 / H])
axR = fig.add_axes([621 / W, 1 - 625 / H, 420 / W, 620 / H])

frame_col = '#222222'
sans = 'Liberation Sans'
cap_x = [230 / W, 800 / W]
for ax, pts, cap, cx in [(axL, before, captions[0], cap_x[0]), (axR, after, captions[1], cap_x[1])]:
    ra = [p[0] for p in pts]
    dec = [p[1] for p in pts]
    ax.plot(ra, dec, linestyle='none', marker='s', markersize=1.8,
            markerfacecolor='black', markeredgewidth=0, color='black')
    ax.set_xlim(*xlim)
    ax.set_ylim(*ylim)
    ax.set_xticks(xticks)
    ax.set_yticks(yticks)
    ax.xaxis.set_minor_locator(MultipleLocator(0.5))
    ax.yaxis.set_minor_locator(MultipleLocator(5))
    ax.tick_params(which='both', direction='in', top=True, right=True, color=frame_col, width=1.0)
    ax.tick_params(axis='x', which='major', length=8.5, labelsize=9.5, pad=6)
    ax.tick_params(axis='x', which='minor', length=4.3)
    ax.tick_params(axis='y', which='major', length=6, labelsize=9.5, pad=4)
    ax.tick_params(axis='y', which='minor', length=3)
    for lab in ax.get_yticklabels() + ax.get_xticklabels():
        lab.set_fontfamily(sans)
    for s in ax.spines.values():
        s.set_linewidth(1.3)
        s.set_color(frame_col)
    ax.set_xlabel('RA [hrs]', fontsize=9.5, fontfamily=sans, labelpad=3)
    ax.set_ylabel('Dec [deg]', fontsize=9.5, fontfamily=sans, labelpad=6)
    fig.text(cx, 1 - 700 / H, cap, ha='center', va='center', fontsize=22)

axR.axhline(flag_dec_limit, color='#666666', linewidth=1.4, dashes=(6, 4))

fig.savefig('out.png', dpi=100)
